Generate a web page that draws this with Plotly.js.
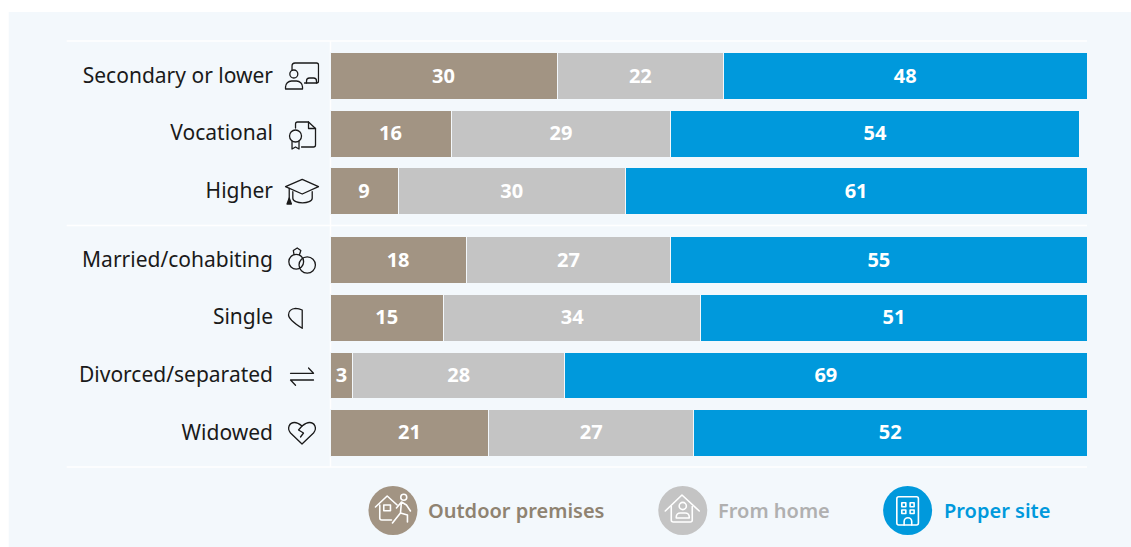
<!DOCTYPE html>
<html>
<head>
<meta charset="utf-8">
<script src="https://cdn.plot.ly/plotly-3.0.1.min.js"></script>
<style>
  html, body { margin: 0; padding: 0; background: #ffffff; }
  #chart { width: 1131px; height: 547px; }
</style>
</head>
<body>
<div id="chart"></div>
<script>
const categories = ['Secondary or lower', 'Vocational', 'Higher', 'Married/cohabiting', 'Single', 'Divorced/separated', 'Widowed'];
const rowPositions = [0, 1, 2, 3.2, 4.2, 5.2, 6.2];
const outdoorPremises = [30, 16, 9, 18, 15, 3, 21];
const fromHome = [22, 29, 30, 27, 34, 28, 27];
const properSite = [48, 54, 61, 55, 51, 69, 52];

const seriesNames = ['Outdoor premises', 'From home', 'Proper site'];
const seriesColors = ['#a29483', '#c4c4c4', '#0099dc'];
const legendTextColors = ['#8f8371', '#b0b0b0', '#0099dc'];

const W = 1131, H = 547;
const plot = { l: 329.5, r: 1087, t: 41, b: 467 };
const px = x => (x - plot.l) / (plot.r - plot.l);
const py = y => 1 - (y - plot.t) / (plot.b - plot.t);

// Vertical nudges that centre the text optically, in row units.
const tickLift = 0.015;
const valueDrop = 0.025;

// Line-art pictograms, each drawn in a local box measured in pixels.
const rowIcons = [
  { x: 283, y: 58, body: '<path d="M8.5 12V8a3 3 0 0 1 3-3H33a2 2 0 0 1 2 2v16a2 2 0 0 1-2 2H21"/><path d="M23 25v-2a3 3 0 0 1 3-3h4a3 3 0 0 1 3 3v2"/><circle cx="10.3" cy="16" r="4"/><path d="M2 31v-2a6 6 0 0 1 6-6h5a6 6 0 0 1 6 6v2z"/>' },
  { x: 283, y: 116, body: '<path d="M12 12V8a2 2 0 0 1 2-2h11l7 6.5V29a2 2 0 0 1-2 2H18"/><path d="M25 6v6.5h7"/><circle cx="12" cy="20" r="6"/><path d="M8.5 25.5V33l3.5-2 3.5 2v-7.5"/>' },
  { x: 283, y: 173, body: '<path d="M2 13.7L18.7 6.3 35 13.7 18.7 21z"/><path d="M9.3 18.7v6.6c0 6 19.4 6 19.4 0v-6.6"/><path d="M5.7 15.4v10"/><path d="M3.5 31l2.2-6 2.2 6z" fill="#1a1a1a"/>' },
  { x: 283, y: 243, body: '<circle cx="12.7" cy="18.7" r="7.4"/><circle cx="23.7" cy="22" r="8.2"/><path d="M10.5 11.5L9.8 7.5 13.7 5 17.3 7.5 16 11.5"/>' },
  { x: 283, y: 301, body: '<path d="M18.7 27.3V9C16.5 7.8 14.5 7.3 12 7.3 7.5 7.5 5 10.5 5 14c0 4 6 8.5 13.7 13.3z"/>' },
  { x: 283, y: 358, body: '<path d="M7 15.3H30L25 10"/><path d="M30 22H7l5 5.3"/>' },
  { x: 283, y: 415, body: '<path d="M18.5 29L7 18C3 13 6 7.5 11 7.5c3 0 5 1.5 7.5 3.5 2.5-2 4.5-3.5 7.5-3.5 5 0 8 5.5 4 10.5z"/><path d="M18.5 11L15 15l5 3-3 4"/>' }
];
const legendIcons = [
  { x: 368, y: 486, body: '<path d="M7 21L18.7 10 28.7 19"/><path d="M11.3 19V32a2 2 0 0 0 2 2H23"/><rect x="15.3" y="19" width="6.7" height="5.7"/><circle cx="35.3" cy="11.3" r="3"/><path d="M33 16l-1 11-8 10M32 27l7 2 0 7M33 16l-5 6M33 16l5 3 4 6"/>' },
  { x: 658, y: 486, body: '<path d="M7 25L23.7 9 41 25"/><path d="M13 20.5V34a2 2 0 0 0 2 2H32a2 2 0 0 0 2-2V20.5"/><circle cx="24.5" cy="20" r="3.6"/><path d="M18 32v-1a4 4 0 0 1 4-4h5a4 4 0 0 1 4 4v1z"/>' },
  { x: 883, y: 486, body: '<rect x="13.7" y="10.7" width="21.6" height="28.3" rx="2"/><rect x="18.7" y="16.7" width="4" height="4"/><rect x="27" y="16.7" width="4" height="4"/><rect x="18.7" y="24" width="4" height="3.5"/><rect x="27" y="24" width="4" height="3.5"/><path d="M21 39v-3.5a3.8 3.8 0 0 1 7.6 0V39"/>' }
];

function iconImage(icon, size, stroke, strokeWidth) {
  const svg = `<svg xmlns="http://www.w3.org/2000/svg" width="${size}" height="${size}" viewBox="0 0 ${size} ${size}">` +
    `<g fill="none" stroke="${stroke}" stroke-width="${strokeWidth}" stroke-linejoin="round" stroke-linecap="round">${icon.body}</g></svg>`;
  return {
    source: 'data:image/svg+xml;charset=utf-8,' + encodeURIComponent(svg),
    xref: 'paper', yref: 'paper',
    x: px(icon.x), y: py(icon.y),
    sizex: size / (plot.r - plot.l), sizey: size / (plot.b - plot.t),
    xanchor: 'left', yanchor: 'top', sizing: 'stretch', layer: 'above'
  };
}

const allSeries = [outdoorPremises, fromHome, properSite];

const barTraces = allSeries.map((values, i) => ({
  type: 'bar',
  orientation: 'h',
  name: seriesNames[i],
  y: rowPositions,
  x: values,
  width: 0.815,
  marker: { color: seriesColors[i], line: { color: '#f3f8fc', width: 1 } },
  hovertemplate: '%{x}<extra>' + seriesNames[i] + '</extra>'
}));

// Value labels centred on each stacked segment.
const labelTraces = allSeries.map((values, i) => ({
  type: 'scatter',
  mode: 'text',
  x: values.map((v, row) => allSeries.slice(0, i).reduce((sum, s) => sum + s[row], 0) + v / 2),
  y: rowPositions.map(p => p + valueDrop),
  text: values.map(String),
  textposition: 'middle center',
  textfont: { family: '"Noto Sans", sans-serif', size: 20, color: '#ffffff', weight: 700 },
  hoverinfo: 'skip'
}));

const whiteRule = (x0, y0, x1, y1, width) => ({
  type: 'line', xref: 'paper', yref: 'paper',
  x0: px(x0), x1: px(x1), y0: py(y0), y1: py(y1),
  line: { color: '#ffffff', width: width }, layer: 'below'
});

const legendCenters = [392.5, 682.5, 907.5];
const legendTextLeft = [426, 716, 942];
const legendRadius = 24.5, legendY = 510.5;

const shapes = [
  // Tinted panel behind everything
  { type: 'rect', xref: 'paper', yref: 'paper', x0: px(8), x1: px(1131), y0: py(12), y1: py(547),
    fillcolor: '#f3f8fc', line: { width: 0 }, layer: 'below' },
  whiteRule(66, 41, 1087, 41, 1.5),
  whiteRule(66, 225.5, 1087, 225.5, 1.5),
  whiteRule(66, 467, 1087, 467, 1.5),
  whiteRule(330, 41, 330, 467, 1.5)
].concat(legendCenters.map((cx, i) => ({
  type: 'circle', xref: 'paper', yref: 'paper',
  x0: px(cx - legendRadius), x1: px(cx + legendRadius),
  y0: py(legendY - legendRadius), y1: py(legendY + legendRadius),
  fillcolor: seriesColors[i], line: { width: 0 }, layer: 'below'
})));

const annotations = seriesNames.map((name, i) => ({
  text: name, showarrow: false, xref: 'paper', yref: 'paper',
  x: px(legendTextLeft[i]), y: py(510), xanchor: 'left', yanchor: 'middle',
  font: { family: '"Noto Sans", sans-serif', size: 20, color: legendTextColors[i], weight: 600 }
}));

const images = rowIcons.map(ic => iconImage(ic, 36, '#1a1a1a', 1.3))
  .concat(legendIcons.map(ic => iconImage(ic, 49, '#ffffff', 1.6)));

const layout = {
  width: W, height: H,
  margin: { l: plot.l, r: W - plot.r, t: plot.t, b: H - plot.b, pad: 0 },
  paper_bgcolor: '#ffffff',
  plot_bgcolor: 'rgba(0,0,0,0)',
  barmode: 'stack',
  showlegend: false,
  bargap: 0,
  xaxis: { range: [0, 100], showgrid: false, zeroline: false, showticklabels: false, ticks: '', fixedrange: true },
  yaxis: {
    range: [6.79, -0.61], tickmode: 'array', tickvals: rowPositions.map(p => p - tickLift), ticktext: categories,
    showgrid: false, zeroline: false, ticks: '', ticklabelstandoff: 56, fixedrange: true,
    tickfont: { family: '"Noto Sans", sans-serif', size: 21, color: '#1a1a1a' }
  },
  shapes, annotations, images
};

Plotly.newPlot('chart', barTraces.concat(labelTraces), layout, { displayModeBar: false, staticPlot: true });
</script>
</body>
</html>
